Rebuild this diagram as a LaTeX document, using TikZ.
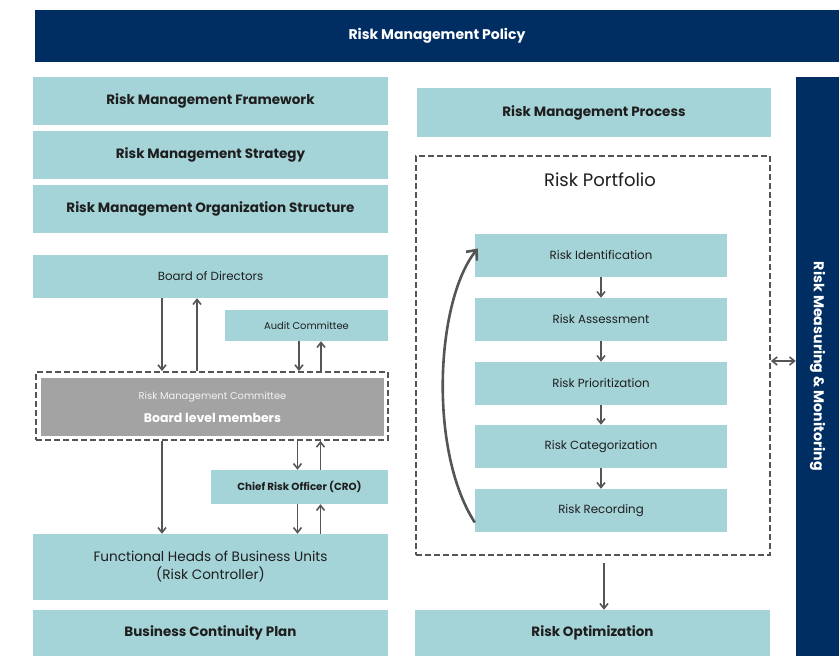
\documentclass[tikz,border=0pt]{standalone}
\usepackage{fontspec}
\setmainfont{Poppins}
\usepackage{xcolor}
\usetikzlibrary{arrows.meta}

\definecolor{navy}{RGB}{0,45,98}
\definecolor{teal}{RGB}{165,212,216}
\definecolor{slate}{RGB}{85,85,85}
\definecolor{ink}{RGB}{30,30,30}
\definecolor{board}{RGB}{163,163,163}

\begin{document}
\begin{tikzpicture}[
		    x=1pt, y=-1pt,
		    every node/.style={inner sep=0pt, text=ink},
		    arr/.style={draw=slate, line width=1.6pt, -{Straight Barb[length=5pt, width=8pt]}}
		]
		\tikzset{
		    azul/.style={fill=navy, text=white, font=\fontsize{14}{16}\selectfont\bfseries},
		    titulo/.style={fill=teal, minimum width=355pt, minimum height=48pt, font=\fontsize{13.5}{16}\selectfont\bfseries},
		    caixa/.style={fill=teal, font=\fontsize{11.8}{14}\selectfont},
		    etapa/.style={caixa, minimum width=252pt, minimum height=43pt},
		    tracejado/.style={draw=slate, line width=1.8pt, dash pattern=on 6pt off 3pt}
		}
		\useasboundingbox (0,0) rectangle (839,656);
		% topo
		\node[azul, minimum width=804pt, minimum height=52pt] (policy) at (437,36) {Risk Management Policy};
		\node[titulo] (framework) at (210.5,101) {Risk Management Framework};
		\node[titulo] (strategy) at (210.5,155) {Risk Management Strategy};
		\node[titulo] (structure) at (210.5,209) {Risk Management Organization Structure};
		\node[titulo, minimum width=354pt, minimum height=49pt] (process) at (594,112.5) {Risk Management Process};
		\node[azul, minimum width=43pt, minimum height=579pt] (bar) at (817.5,366.5) {};
		\node[rotate=-90, text=white, font=\fontsize{14.2}{16}\selectfont\bfseries] (barlabel) at (bar.center) {Risk Measuring \& Monitoring};
		% estrutura
		\node[caixa, minimum width=355pt, minimum height=43pt] (directors) at (210.5,276.5) {Board of Directors};
		\node[caixa, minimum width=163pt, minimum height=31pt, font=\fontsize{9.9}{12}\selectfont] (audit) at (306.5,325.5) {Audit Committee};
		\node[tracejado, minimum width=352pt, minimum height=68pt] (committee) at (212,406) {};
		\node[fill=board, minimum width=343pt, minimum height=58pt, align=center, text=white] (members) at (212.5,407)
		    {{\fontsize{9.9}{12}\selectfont\color{white!88!board} Risk Management Committee}\\[11pt]{\fontsize{12.5}{14}\selectfont\bfseries Board level members}};
		\node[caixa, minimum width=177pt, minimum height=34pt, font=\fontsize{10.3}{12}\selectfont\bfseries] (cro) at (299.5,487) {Chief Risk Officer (CRO)};
		\node[caixa, minimum width=355pt, minimum height=66pt, align=center, font=\fontsize{13.6}{18}\selectfont] (heads) at (210.5,567)
		    {Functional Heads of Business Units\\(Risk Controller)};
		\node[titulo, minimum height=46pt] (continuity) at (210.5,633) {Business Continuity Plan};
		\node[titulo, minimum height=46pt] (optimization) at (592.5,633) {Risk Optimization};
		% portfolio
		\node[tracejado, minimum width=354pt, minimum height=399pt] (portfolio) at (593,355.5) {};
		\node[font=\fontsize{18}{20}\selectfont] (ptitle) at (600,180) {Risk Portfolio};
		\node[etapa] (ident) at (601,255.5) {Risk Identification};
		\node[etapa] (assess) at (601,319.5) {Risk Assessment};
		\node[etapa] (prior) at (601,383.5) {Risk Prioritization};
		\node[etapa] (categ) at (601,446.5) {Risk Categorization};
		\node[etapa] (record) at (601,510.5) {Risk Recording};
		% setas
		\draw[arr] ([xshift=-48.5pt]directors.south) -- ([xshift=-48.5pt]directors.south |- committee.north);
		\draw[arr] ([xshift=-13.5pt]directors.south |- committee.north) -- ([xshift=-13.5pt]directors.south);
		\draw[arr] ([xshift=-7.5pt]audit.south) -- ([xshift=-7.5pt]audit.south |- committee.north);
		\draw[arr] ([xshift=14.5pt]audit.south |- committee.north) -- ([xshift=14.5pt]audit.south);
		\draw[arr] ([xshift=-2pt]cro.north |- committee.south) -- ([xshift=-2pt]cro.north);
		\draw[arr] ([xshift=21pt]cro.north) -- ([xshift=21pt]cro.north |- committee.south);
		\draw[arr] ([xshift=-2pt]cro.south) -- ([xshift=-2pt]cro.south |- heads.north);
		\draw[arr] ([xshift=21pt]cro.south |- heads.north) -- ([xshift=21pt]cro.south);
		\draw[arr] ([xshift=-48.5pt]directors.south |- committee.south) -- ([xshift=-48.5pt]directors.south |- heads.north);
		\draw[arr] (ident) -- (assess);
		\draw[arr] (assess) -- (prior);
		\draw[arr] (prior) -- (categ);
		\draw[arr] (categ) -- (record);
		\draw[arr, shorten <=7pt] ([xshift=11pt]portfolio.south) -- ([xshift=11pt]portfolio.south |- optimization.north);
		\draw[arr, {Straight Barb[length=5pt, width=8pt]}-{Straight Barb[length=5pt, width=8pt]}] ([yshift=-5.5pt]portfolio.east) -- ([yshift=-5.5pt]portfolio.east -| bar.west);
		\draw[arr, line width=2.6pt, -{Straight Barb[length=8pt, width=14pt]}] ([yshift=-12pt]record.west) .. controls (428,450) and (436,300) .. ([xshift=3pt, yshift=7pt]ident.west);
		\end{tikzpicture}
\end{document}
